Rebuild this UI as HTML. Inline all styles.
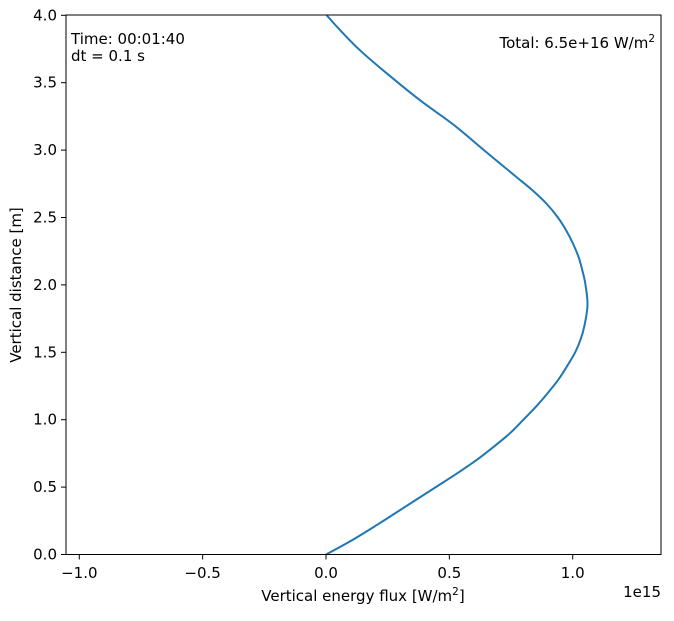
<!DOCTYPE html>
<html><head><meta charset="utf-8"><style>
body{margin:0;background:#fff;}
svg text{font-family:"DejaVu Sans","Liberation Sans",sans-serif;font-size:15px;fill:#000;}
</style></head><body>
<svg id="chart" width="674" height="616">
<rect width="674" height="616" fill="#fff"/>
<g id="ticks"></g>
<path id="curve" fill="none" stroke="#1f77b4" stroke-width="2" stroke-linejoin="round"/>
<rect x="66" y="15" width="595" height="539.5" fill="none" stroke="#000" stroke-width="1"/>
<text x="71" y="44">Time: 00:01:40</text>
<text x="71" y="61">dt = 0.1 s</text>
<text x="655" y="48" text-anchor="end">Total: 6.5e+16 W/m<tspan dy="-6" font-size="10.5">2</tspan></text>
<text x="363" y="601" text-anchor="middle">Vertical energy flux [W/m<tspan dy="-6" font-size="10.5">2</tspan><tspan dy="6">]</tspan></text>
<text x="661" y="597" text-anchor="end">1e15</text>
<text transform="translate(21,285) rotate(-90)" text-anchor="middle">Vertical distance [m]</text>
</svg>
<script>
const heights=[0,0.1,0.2,0.3,0.4,0.5,0.6,0.7,0.8,0.9,1.0,1.1,1.2,1.3,1.4,1.5,1.6,1.7,1.85,2.0,2.1,2.2,2.3,2.4,2.5,2.6,2.7,2.8,2.9,3.0,3.19,3.37,3.57,3.74,3.89,4.0];
const flux=[0,0.1,0.19,0.275,0.36,0.445,0.53,0.61,0.68,0.746,0.80,0.853,0.90,0.943,0.978,1.01,1.033,1.048,1.06,1.052,1.04,1.025,1.003,0.975,0.94,0.895,0.838,0.772,0.706,0.64,0.516,0.381,0.246,0.138,0.057,0.003];
const xTicks=[-1.0,-0.5,0.0,0.5,1.0];
const xTickLabels=["\u22121.0","\u22120.5","0.0","0.5","1.0"];
const yTicks=[0,0.5,1,1.5,2,2.5,3,3.5,4];
const yTickLabels=["0.0","0.5","1.0","1.5","2.0","2.5","3.0","3.5","4.0"];
function sx(v){return 326+v*246.7;}
function sy(v){return 554.5-v*134.8;}
const ns="http://www.w3.org/2000/svg";
const g=document.getElementById('ticks');
xTicks.forEach((t,i)=>{
 const l=document.createElementNS(ns,'line');
 l.setAttribute('x1',sx(t));l.setAttribute('x2',sx(t));l.setAttribute('y1',554.5);l.setAttribute('y2',559.5);l.setAttribute('stroke','#000');
 
 
 g.appendChild(l);
 const tx=document.createElementNS(ns,'text');
 tx.setAttribute('x',sx(t));tx.setAttribute('y',578);tx.setAttribute('text-anchor','middle');tx.textContent=xTickLabels[i];
 
 
 g.appendChild(tx);
});
yTicks.forEach((t,i)=>{
 const l=document.createElementNS(ns,'line');
 l.setAttribute('x1',61);l.setAttribute('x2',66);l.setAttribute('y1',sy(t));l.setAttribute('y2',sy(t));l.setAttribute('stroke','#000');
 
 
 g.appendChild(l);
 const tx=document.createElementNS(ns,'text');
 tx.setAttribute('x',57);tx.setAttribute('y',sy(t)+5);tx.setAttribute('text-anchor','end');tx.textContent=yTickLabels[i];
 
 
 g.appendChild(tx);
});
const pts=heights.map((h,i)=>[sx(flux[i]),sy(h)]);
let d='M'+pts[0][0].toFixed(1)+','+pts[0][1].toFixed(1);
for(let i=0;i<pts.length-1;i++){
 const p0=pts[Math.max(i-1,0)],p1=pts[i],p2=pts[i+1],p3=pts[Math.min(i+2,pts.length-1)];
 const c1=[p1[0]+(p2[0]-p0[0])/6,p1[1]+(p2[1]-p0[1])/6];
 const c2=[p2[0]-(p3[0]-p1[0])/6,p2[1]-(p3[1]-p1[1])/6];
 d+=' C'+c1[0].toFixed(1)+','+c1[1].toFixed(1)+' '+c2[0].toFixed(1)+','+c2[1].toFixed(1)+' '+p2[0].toFixed(1)+','+p2[1].toFixed(1);
}
document.getElementById('curve').setAttribute('d',d);
</script>
</body></html>
